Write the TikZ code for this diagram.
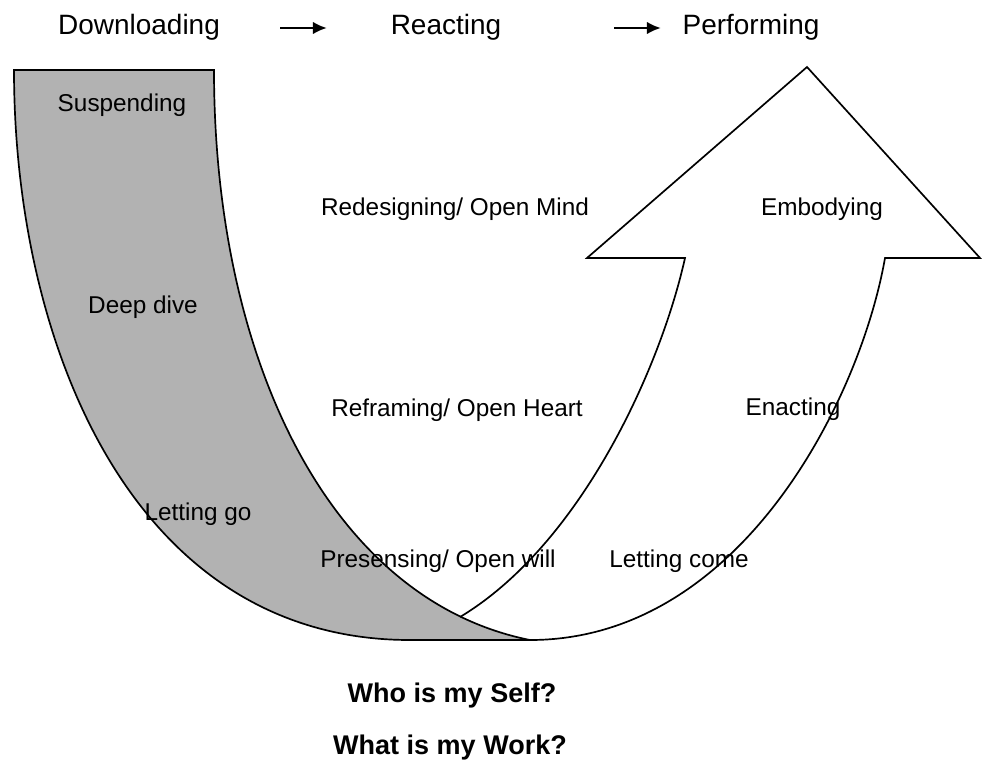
\documentclass[tikz,border=0pt]{standalone}
\usepackage{fontspec}
\setmainfont{Liberation Sans}
\usetikzlibrary{arrows.meta}

\begin{document}
\begin{tikzpicture}[x=0.025cm, y=-0.025cm,
    phase/.style={font=\fontsize{19.9}{22}\selectfont, inner sep=0, text height=0.72em, text depth=0pt},
    stage/.style={font=\fontsize{17.3}{20}\selectfont, inner sep=0, text height=0.72em, text depth=0pt},
    question/.style={font=\fontsize{19.2}{22}\selectfont\bfseries, inner sep=0, text height=0.72em, text depth=0pt},
    flow/.style={-{Latex[length=10pt,width=9pt]}, line width=2pt},
    outline/.style={line width=1.2pt, line join=miter}]
    \useasboundingbox (0,0) rectangle (983,768);

    % the shaded band going down
    \filldraw[outline, fill=gray!60] (14,70) -- (214,70) .. controls (214,360) and (330,600) .. (530,640)
        -- (410,640) .. controls (130,640) and (14,340) .. (14,70) -- cycle;

    % the open arrow going up
    \draw[outline] (460,617) .. controls (580,545) and (660,370) .. (685,258) -- (587,258) -- (807,67)
        -- (980,258) -- (885,258) .. controls (860,400) and (740,640) .. (530,640);

    % top row
    \node (dl) at (139,29) [phase] {Downloading};
    \node (re) at (446,29) [phase] {Reacting};
    \node (pf) at (751,29) [phase] {Performing};
    \coordinate (a1s) at (280,28);
    \coordinate (a1e) at (327,28);
    \coordinate (a2s) at (614,28);
    \coordinate (a2e) at (661,28);
    \draw[flow] (a1s) -- (a1e);
    \draw[flow] (a2s) -- (a2e);

    % down side
    \node (sp) at (122,106) [stage] {Suspending};
    \node (dd) at (143,308) [stage] {Deep dive};
    \node (lg) at (198,515) [stage] {Letting go};

    % middle
    \node (rd) at (455,210) [stage] {Redesigning/ Open Mind};
    \node (rf) at (457,411) [stage] {Reframing/ Open Heart};
    \node (ps) at (438,562) [stage] {Presensing/ Open will};

    % up side
    \node (em) at (822,210) [stage] {Embodying};
    \node (en) at (793,410) [stage] {Enacting};
    \node (lc) at (679,562) [stage] {Letting come};

    % questions
    \node (q1) at (452,697) [question] {Who is my Self?};
    \node (q2) at (450,749) [question] {What is my Work?};
\end{tikzpicture}
\end{document}
